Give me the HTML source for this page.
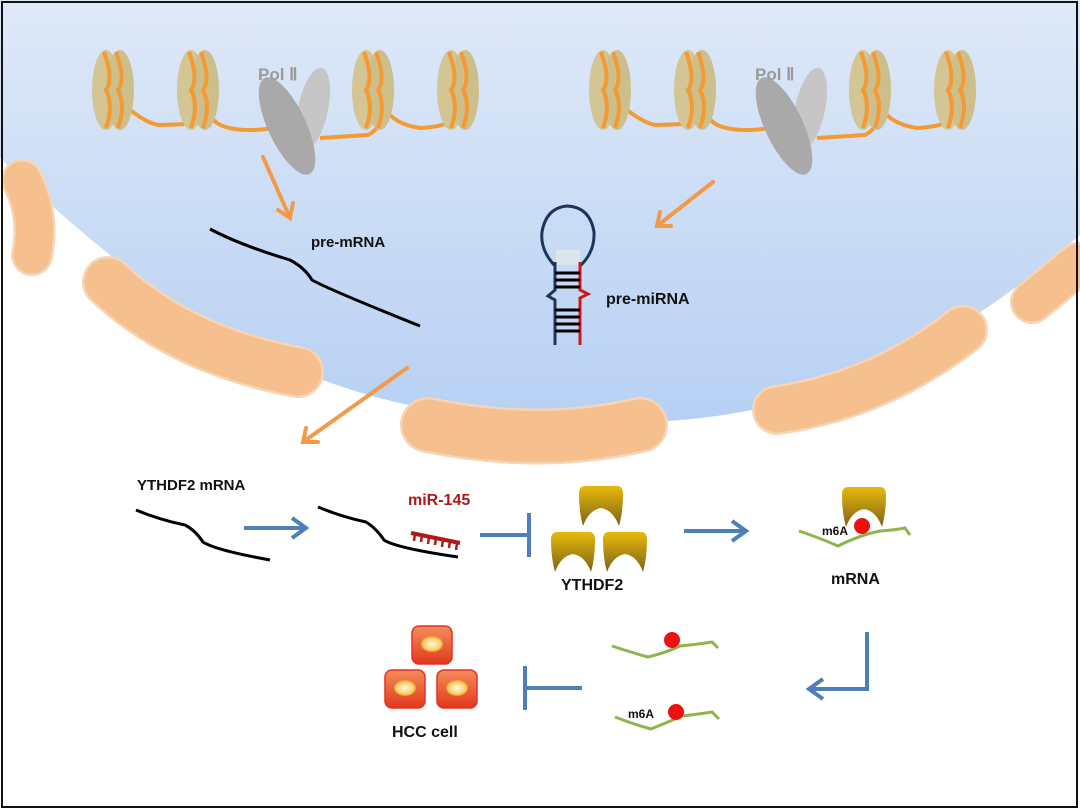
<!DOCTYPE html>
<html><head><meta charset="utf-8">
<style>
html,body{margin:0;padding:0;background:#fff;}
svg{display:block;}
text{font-family:"Liberation Sans",sans-serif;font-weight:bold;}
</style></head>
<body>
<svg width="1080" height="810" viewBox="0 0 1080 810" xmlns="http://www.w3.org/2000/svg">
<defs>
<linearGradient id="nuc" x1="0" y1="0" x2="0" y2="1">
<stop offset="0" stop-color="#dfe9f8"/>
<stop offset="1" stop-color="#b7d0f3"/>
</linearGradient>
<linearGradient id="gold" x1="0" y1="0" x2="0" y2="1">
<stop offset="0" stop-color="#e8b90a"/>
<stop offset="1" stop-color="#7d6318"/>
</linearGradient>
<linearGradient id="cell" x1="0" y1="0" x2="0" y2="1">
<stop offset="0" stop-color="#f48d5a"/>
<stop offset="1" stop-color="#e0381c"/>
</linearGradient>
<radialGradient id="nucl" cx="0.5" cy="0.5" r="0.5">
<stop offset="0" stop-color="#fff8d8"/>
<stop offset="1" stop-color="#f8c860"/>
</radialGradient>
<g id="nucleo">
<ellipse cx="-6" cy="0" rx="14" ry="40" fill="#d3c594"/>
<ellipse cx="8" cy="0" rx="14" ry="40" fill="#cdbf8c"/>
<path d="M-8,-38 Q2,-10 -6,0 Q2,15 -6,38" stroke="#f39a33" stroke-width="4" fill="none"/>
<path d="M4,-38 Q14,-10 6,0 Q14,15 6,38" stroke="#f39a33" stroke-width="4" fill="none"/>
</g>
<g id="cup">
<path d="M4,0 H36 Q42,0 42,8 Q42,26 38,40 Q32,24 20,22 Q8,24 2,40 Q-2,26 -2,8 Q-2,0 4,0 Z" fill="url(#gold)"/>
</g>
<g id="hcc">
<rect x="0" y="0" width="40" height="38" rx="7" fill="url(#cell)" stroke="#e5302a" stroke-width="1.5"/>
<ellipse cx="20" cy="18" rx="10" ry="7" fill="url(#nucl)" stroke="#f6b63a" stroke-width="1.5"/>
</g>
</defs>

<!-- nucleus -->
<path d="M0,0 H1080 V235 C870,420 700,430 540,420 C300,415 150,300 0,158 Z" fill="url(#nuc)"/>

<!-- pores -->
<g stroke-linecap="round" fill="none">
<path d="M22,180 Q40,215 32,255" stroke="#f6d4b6" stroke-width="42"/>
<path d="M22,180 Q40,215 32,255" stroke="#f6bf8e" stroke-width="37"/>
<path d="M108,282 Q180,350 298,372" stroke="#f6d4b6" stroke-width="52"/>
<path d="M108,282 Q180,350 298,372" stroke="#f6bf8e" stroke-width="47"/>
<path d="M428,425 Q540,448 640,425" stroke="#f6d4b6" stroke-width="56"/>
<path d="M428,425 Q540,448 640,425" stroke="#f6bf8e" stroke-width="51"/>
<path d="M777,410 Q880,395 963,330" stroke="#f6d4b6" stroke-width="50"/>
<path d="M777,410 Q880,395 963,330" stroke="#f6bf8e" stroke-width="45"/>
<path d="M1032,302 L1078,264" stroke="#f6d4b6" stroke-width="44"/>
<path d="M1032,302 L1078,264" stroke="#f6bf8e" stroke-width="39"/>
</g>

<!-- chromatin -->
<g fill="none" stroke="#f39a33" stroke-width="4">
<path d="M130,110 Q150,125 160,125 L188,124"/>
<path d="M212,118 Q220,130 250,130 Q270,130 282,125"/>
<path d="M320,138 L368,135 Q378,130 385,115"/>
<path d="M390,115 Q400,125 420,128 Q440,127 450,122"/>
<path d="M627,110 Q647,125 657,125 L685,124"/>
<path d="M709,118 Q717,130 747,130 Q767,130 779,125"/>
<path d="M817,138 L865,135 Q875,130 882,115"/>
<path d="M887,115 Q897,125 917,128 Q937,127 947,122"/>
</g>
<use href="#nucleo" x="112" y="90"/>
<use href="#nucleo" x="197" y="90"/>
<use href="#nucleo" x="372" y="90"/>
<use href="#nucleo" x="457" y="90"/>
<use href="#nucleo" x="609" y="90"/>
<use href="#nucleo" x="694" y="90"/>
<use href="#nucleo" x="869" y="90"/>
<use href="#nucleo" x="954" y="90"/>
<!-- pol II -->
<ellipse cx="313" cy="109" rx="15" ry="42" transform="rotate(12 313 109)" fill="#c6c6c6"/>
<ellipse cx="287" cy="126" rx="19" ry="53" transform="rotate(-25 287 126)" fill="#a9a9a9"/>
<ellipse cx="810" cy="109" rx="15" ry="42" transform="rotate(12 810 109)" fill="#c6c6c6"/>
<ellipse cx="784" cy="126" rx="19" ry="53" transform="rotate(-25 784 126)" fill="#a9a9a9"/>
<text x="258" y="80" font-size="17" fill="#9a9a9a">Pol Ⅱ</text>
<text x="755" y="80" font-size="17" fill="#9a9a9a">Pol Ⅱ</text>

<!-- orange arrows -->
<g stroke="#f39a4a" stroke-width="4" fill="none" stroke-linecap="round">
<path d="M263,157 L290,218 M278,210 L290,218 L293,203"/>
<path d="M713,182 L657,226 M660,212 L657,226 L671,226"/>
<path d="M407,368 L303,442 M306,428 L303,442 L318,442"/>
</g>

<!-- pre-mRNA -->
<path d="M210,229 Q240,245 290,260 Q305,268 312,280 Q330,290 420,326" stroke="#000" stroke-width="3" fill="none"/>
<text x="311" y="247" font-size="15" fill="#111">pre-mRNA</text>

<!-- pre-miRNA hairpin -->
<rect x="556" y="250" width="24" height="15" fill="#dce4ee"/>
<path d="M555,266 Q540,250 542,232 Q546,208 567,206 Q590,207 594,232 Q595,252 580,266" stroke="#1d3557" stroke-width="3" fill="none"/>
<path d="M555,262 V290 L548,296 L555,300 V345" stroke="#1d3557" stroke-width="3" fill="none"/>
<path d="M580,262 V290 L588,294 L580,298 V345" stroke="#d01818" stroke-width="3" fill="none"/>
<g stroke="#000" stroke-width="3">
<line x1="555" y1="273" x2="580" y2="273"/>
<line x1="555" y1="280" x2="580" y2="280"/>
<line x1="555" y1="287" x2="580" y2="287"/>
<line x1="555" y1="310" x2="580" y2="310"/>
<line x1="555" y1="317" x2="580" y2="317"/>
<line x1="555" y1="324" x2="580" y2="324"/>
<line x1="555" y1="331" x2="580" y2="331"/>
</g>
<text x="606" y="304" font-size="16" fill="#111">pre-miRNA</text>

<!-- YTHDF2 mRNA -->
<text x="137" y="490" font-size="15" fill="#111">YTHDF2 mRNA</text>
<path d="M136,510 Q160,520 185,525 Q195,530 203,542 Q215,550 270,560" stroke="#000" stroke-width="3" fill="none"/>
<path d="M318,507 Q342,517 366,522 Q376,528 384,540 Q396,548 458,557" stroke="#000" stroke-width="3" fill="none"/>
<!-- miR-145 -->
<text x="408" y="505" font-size="16" fill="#b01818">miR-145</text>
<path d="M411,533 L460,543" stroke="#b01818" stroke-width="4"/>
<g stroke="#b01818" stroke-width="2.5">
<line x1="415" y1="534" x2="414" y2="541"/><line x1="422" y1="535" x2="421" y2="542"/>
<line x1="429" y1="537" x2="428" y2="544"/><line x1="436" y1="538" x2="435" y2="545"/>
<line x1="443" y1="540" x2="442" y2="547"/><line x1="450" y1="541" x2="449" y2="548"/>
<line x1="457" y1="543" x2="456" y2="550"/>
</g>

<!-- blue arrows -->
<g stroke="#4f7fba" stroke-width="4" fill="none">
<path d="M244,528 L305,528 M292,518 L306,528 L292,538"/>
<path d="M480,535 L528,535 M529,513 V557"/>
<path d="M684,531 L745,531 M732,521 L746,531 L732,541"/>
<path d="M867,632 V689 H810 M823,679 L809,689 L823,699"/>
<path d="M582,688 L526,688 M525,666 V710"/>
</g>

<!-- YTHDF2 cups -->
<use href="#cup" x="581" y="486"/>
<use href="#cup" x="553" y="532"/>
<use href="#cup" x="605" y="532"/>
<text x="561" y="590" font-size="16" fill="#111">YTHDF2</text>

<!-- mRNA with m6A -->
<use href="#cup" x="844" y="487"/>
<path d="M799,531 Q820,538 838,546 Q860,535 880,531 Q895,530 905,528 L910,535" stroke="#8eb54c" stroke-width="3" fill="none"/>
<circle cx="862" cy="526" r="8" fill="#ee1010"/>
<text x="822" y="535" font-size="12" fill="#111">m6A</text>
<text x="831" y="584" font-size="16" fill="#111">mRNA</text>

<path d="M612,646 Q630,652 648,657 Q668,652 680,646 Q700,644 712,642 L718,648" stroke="#8eb54c" stroke-width="3" fill="none"/>
<circle cx="672" cy="640" r="8" fill="#ee1010"/>
<path d="M615,717 Q633,724 651,729 Q668,722 682,716 Q700,714 712,712 L719,719" stroke="#8eb54c" stroke-width="3" fill="none"/>
<circle cx="676" cy="712" r="8" fill="#ee1010"/>
<text x="628" y="718" font-size="12" fill="#111">m6A</text>

<!-- HCC cells -->
<use href="#hcc" x="412" y="626"/>
<use href="#hcc" x="385" y="670"/>
<use href="#hcc" x="437" y="670"/>
<text x="392" y="737" font-size="16" fill="#111">HCC cell</text>

<!-- frame -->
<rect x="2" y="2" width="1075" height="805" fill="none" stroke="#111" stroke-width="2"/>
</svg>
</body></html>
